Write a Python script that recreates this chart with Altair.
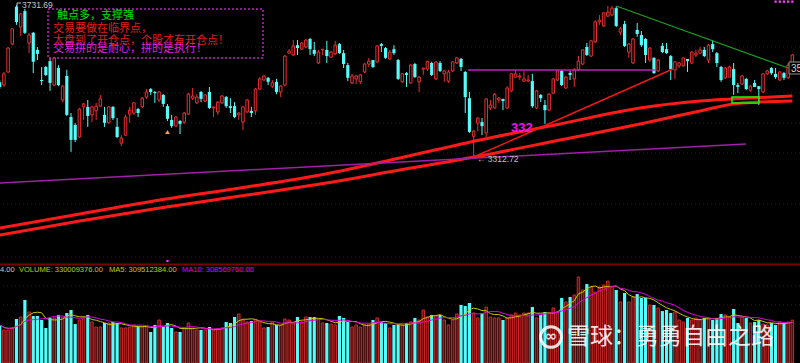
import altair as alt
import pandas as pd

# ---------------- data ----------------
opens = [3519,3511,3547,3624,3727,3671,3715,3627,3655,3608,3525,3561,3577,3511,3558,3470,3536,3423,3401,3368,
         3451,3451,3429,3440,3453,3429,3407,3451,3396,3351,3373,3431,3434,3445,3451,3478,3500,3492,3470,3484,
         3453,3415,3398,3412,3409,3431,3475,3462,3492,3467,3492,3448,3437,3462,3478,3453,3453,3429,3409,3437,
         3440,3440,3500,3525,3531,3508,3520,3492,3511,3599,3594,3621,3610,3616,3638,3608,3572,3608,3608,3588,
         3597,3624,3599,3566,3517,3528,3520,3547,3569,3580,3575,3624,3613,3583,3610,3580,3520,3544,3517,3569,
         3520,3555,3555,3572,3528,3572,3542,3522,3550,3572,3583,3547,3475,3370,3406,3409,3379,3448,3448,3470,
         3473,3448,3495,3533,3533,3522,3522,3522,3448,3484,3456,3442,3489,3525,3550,3503,3544,3528,3553,3569,
         3616,3591,3630,3685,3674,3701,3704,3723,3657,3679,3602,3572,3663,3649,3638,3580,3586,3550,3619,3610,
         3591,3553,3564,3564,3583,3572,3594,3599,3608,3580,3624,3599,3561,3531,3533,3555,3511,3514,3528,3497,
         3517,3508,3492,3542,3558,3542,3525,3544,3531,3572]
highs = [3525,3547,3616,3668,3731.69,3710,3721,3655,3657,3616,3561,3564,3586,3588,3566,3511,3553,3434,3406,3448,
         3462,3470,3453,3462,3484,3451,3453,3453,3420,3373,3429,3451,3464,3448,3478,3500,3503,3495,3495,3486,
         3459,3429,3426,3415,3437,3489,3503,3486,3495,3486,3506,3451,3467,3484,3481,3475,3464,3437,3453,3473,
         3451,3503,3533,3539,3533,3525,3528,3511,3594,3610,3635,3635,3630,3638,3641,3630,3608,3610,3633,3605,
         3633,3627,3608,3572,3542,3539,3542,3572,3586,3580,3621,3627,3616,3608,3621,3583,3544,3547,3569,3572,
         3536,3558,3577,3575,3577,3577,3553,3553,3577,3588,3586,3550,3492,3387,3423,3420,3475,3470,3489,3478,
         3473,3508,3544,3553,3544,3550,3539,3542,3497,3486,3470,3489,3531,3553,3553,3536,3550,3558,3591,3610,
         3627,3635,3690,3704,3712,3729,3729,3728,3671,3688,3627,3641,3682,3660,3641,3616,3588,3583,3627,3627,
         3594,3577,3575,3588,3583,3605,3608,3616,3616,3624,3635,3602,3564,3561,3564,3572,3517,3539,3531,3511,
         3525,3508,3544,3553,3561,3558,3550,3547,3572,3597]
lows = [3500,3506,3544,3621,3677,3646,3652,3599,3544,3580,3511,3536,3495,3508,3508,3464,3426,3327,3354,3365,
        3415,3396,3409,3415,3451,3396,3404,3415,3365,3343,3371,3407,3429,3423,3448,3473,3484,3462,3464,3451,
        3412,3393,3396,3376,3404,3429,3470,3459,3464,3464,3445,3423,3429,3459,3448,3434,3420,3415,3387,3434,
        3423,3429,3497,3522,3511,3503,3486,3478,3508,3597,3591,3594,3608,3613,3594,3591,3569,3594,3572,3586,
        3594,3597,3558,3522,3514,3514,3514,3544,3561,3558,3572,3602,3583,3580,3594,3525,3517,3506,3514,3531,
        3492,3539,3550,3536,3525,3547,3520,3517,3547,3569,3550,3434,3379,3312.72,3384,3373,3368,3442,3445,3462,
        3442,3445,3492,3531,3525,3520,3520,3448,3445,3464,3404,3440,3486,3522,3508,3500,3525,3506,3550,3566,
        3591,3588,3627,3677,3671,3699,3701,3671,3649,3616,3586,3569,3644,3616,3572,3575,3542,3547,3599,3597,
        3525,3528,3558,3561,3547,3569,3588,3597,3588,3572,3602,3561,3520,3528,3533,3484,3489,3511,3497,3492,
        3506,3456,3489,3539,3539,3528,3522,3525,3528,3569]
closes = [3506,3542,3613,3666,3685,3707,3655,3649,3575,3597,3522,3539,3517,3586,3511,3508,3429,3360,3360,3445,
          3459,3426,3451,3453,3473,3407,3451,3420,3368,3365,3423,3442,3462,3434,3475,3492,3492,3489,3492,3459,
          3418,3398,3423,3404,3434,3486,3481,3478,3473,3484,3448,3451,3464,3481,3453,3448,3423,3434,3451,3470,
          3434,3500,3528,3536,3520,3517,3492,3508,3591,3605,3619,3613,3627,3635,3610,3597,3602,3610,3591,3602,
          3621,3599,3569,3531,3536,3536,3539,3569,3577,3561,3619,3619,3586,3602,3599,3528,3542,3539,3566,3533,
          3533,3558,3577,3539,3575,3550,3550,3547,3575,3586,3561,3478,3382,3384,3420,3398,3473,3456,3486,3475,
          3467,3503,3542,3542,3536,3528,3525,3453,3495,3475,3442,3486,3528,3550,3511,3533,3539,3553,3577,3608,
          3594,3633,3685,3690,3710,3712,3723,3674,3666,3619,3624,3638,3652,3621,3594,3613,3544,3580,3602,3599,
          3555,3575,3572,3586,3577,3602,3599,3608,3591,3621,3610,3572,3525,3558,3561,3511,3506,3536,3500,3508,
          3506,3500,3542,3550,3544,3533,3547,3531,3566,3594]
# volume, millions of shares
volumes = [293,254,254,270,339,354,485,393,362,362,331,270,347,347,370,354,385,408,300,331,
           354,370,316,277,277,308,308,316,308,270,270,277,293,285,277,277,239,293,331,277,
           308,270,239,239,270,308,270,254,254,254,277,254,262,270,316,308,354,377,331,316,
           323,331,316,270,277,316,293,293,339,331,308,354,316,354,354,354,339,308,308,300,
           293,362,347,316,277,293,277,293,300,331,347,316,308,270,293,293,293,308,316,347,
           331,408,354,370,362,370,331,293,331,377,447,439,462,385,347,385,431,354,347,347,
           331,347,370,385,370,385,385,431,347,370,393,385,424,393,501,470,508,524,662,562,
           608,585,547,585,601,631,585,562,470,539,470,508,531,501,501,447,447,424,400,408,
           385,393,331,316,347,331,347,331,347,347,331,347,377,370,354,416,308,354,347,308,
           316,331,300,293,308,293,316,308,316,330.009376]

# long moving averages of the index (sampled along the curves)
ma_a_idx = [0, 19.1, 38.2, 57.3, 76.4, 95.4, 114.5, 133.6, 152.7, 167.0, 178.9, 189]
ma_a_val = [3117.1, 3155.7, 3194.3, 3227.4, 3263.2, 3310.1, 3359.7, 3403.8, 3447.9, 3467.1, 3475.4, 3480.9]
ma_b_idx = [0, 19.1, 38.2, 57.3, 76.4, 95.4, 114.5, 133.6, 152.7, 167.0, 174.8, 181.3, 189]
ma_b_val = [3097.8, 3136.4, 3172.3, 3205.3, 3238.4, 3277.0, 3315.6, 3359.7, 3403.8, 3439.6, 3458.9, 3464.4, 3467.1]

# drawn lines (index, price)
purple_line = [(0, 3241.2), (177.9, 3348.6)]
support_line = [(113, 3312.72), (160.5, 3555.3)]
neck_line = [(111.7, 3552.6), (156.2, 3552.6)]
pressure_line = [(147, 3729), (188, 3558)]
box_zone = (174.6, 181.0, 3461.6, 3478.2)

price_grid = [3616.0, 3489.2, 3406.5, 3323.6, 3183.3, 3037.2]
vol_grid = [593, 447, 300]
signal_dots = [185, 186, 187, 188, 189]

# ---------------- styling ----------------
RED = "#e83030"
CYAN = "#54fcfc"
XS = alt.Scale(domain=[0.07, 190.82], nice=False, zero=False)
PS = alt.Scale(domain=[2745.1, 3745.5], nice=False, zero=False)
VS = alt.Scale(domain=[0, 2795], nice=False, zero=False)

N = len(opens)
df = pd.DataFrame({"i": list(range(N)), "o": opens, "h": highs, "l": lows, "c": closes, "v": volumes})
df["up"] = df["c"] >= df["o"]
df["xl_u"] = df["i"] - 0.3
df["xr_u"] = df["i"] + 0.3
df["xl_d"] = df["i"] - 0.38
df["xr_d"] = df["i"] + 0.38
df["zero"] = 0.0
up = df[df.up]
dn = df[~df.up]

one = pd.DataFrame({"a": [0]})


def X(f):
    return alt.X(f, scale=XS, axis=None, title=None)


def YP(f):
    return alt.Y(f, scale=PS, axis=None, title=None)


def YV(f):
    return alt.Y(f, scale=VS, axis=None, title=None)


layers = []

# grid lines
layers.append(alt.Chart(pd.DataFrame({"p": price_grid})).mark_rule(color="#700000", strokeDash=[1, 3], strokeWidth=1)
              .encode(y=YP("p:Q")))
layers.append(alt.Chart(pd.DataFrame({"v": vol_grid})).mark_rule(color="#700000", strokeDash=[1, 3], strokeWidth=1)
              .encode(y=YV("v:Q")))
layers.append(alt.Chart(pd.DataFrame({"v": [758]})).mark_rule(color="#7a0000", strokeWidth=2)
              .encode(y=YV("v:Q")))

# long MAs
ma_df = pd.DataFrame({"i": ma_a_idx + ma_b_idx,
                      "p": ma_a_val + ma_b_val,
                      "s": ["a"] * len(ma_a_idx) + ["b"] * len(ma_b_idx)})
layers.append(alt.Chart(ma_df).mark_line(color="#ff1a1a", strokeWidth=3, interpolate="monotone")
              .encode(x=X("i:Q"), y=YP("p:Q"), detail="s:N"))

# candles: wicks
layers.append(alt.Chart(up).mark_rule(color=RED, strokeWidth=1).encode(x=X("i:Q"), y=YP("l:Q"), y2="h:Q"))
layers.append(alt.Chart(dn).mark_rule(color=CYAN, strokeWidth=1).encode(x=X("i:Q"), y=YP("l:Q"), y2="h:Q"))
# bodies
layers.append(alt.Chart(dn).mark_rect(color=CYAN)
              .encode(x=X("xl_d:Q"), x2="xr_d:Q", y=YP("o:Q"), y2="c:Q"))
layers.append(alt.Chart(up).mark_rect(fill="#000000", stroke=RED, strokeWidth=1)
              .encode(x=X("xl_u:Q"), x2="xr_u:Q", y=YP("o:Q"), y2="c:Q"))

# volume bars
layers.append(alt.Chart(dn).mark_rect(color=CYAN)
              .encode(x=X("xl_d:Q"), x2="xr_d:Q", y=YV("zero:Q"), y2="v:Q"))
layers.append(alt.Chart(up).mark_rect(fill="#4e1010", stroke="#d02828", strokeWidth=1)
              .encode(x=X("xl_u:Q"), x2="xr_u:Q", y=YV("zero:Q"), y2="v:Q"))
# volume MAs
layers.append(alt.Chart(df).transform_window(m5="mean(v)", frame=[-4, 0], sort=[alt.SortField("i")])
              .mark_line(color="#c8c800", strokeWidth=1).encode(x=X("i:Q"), y=YV("m5:Q")))
layers.append(alt.Chart(df).transform_window(m10="mean(v)", frame=[-9, 0], sort=[alt.SortField("i")])
              .mark_line(color="#e000e0", strokeWidth=1).encode(x=X("i:Q"), y=YV("m10:Q")))


def seg(points, color, width):
    d = pd.DataFrame({"i": [points[0][0]], "p": [points[0][1]], "i2": [points[1][0]], "p2": [points[1][1]]})
    return (alt.Chart(d).mark_rule(color=color, strokeWidth=width)
            .encode(x=X("i:Q"), x2="i2:Q", y=YP("p:Q"), y2="p2:Q"))


layers.append(seg(purple_line, "#a020a8", 1.5))
layers.append(seg(support_line, "#f01818", 1.5))
layers.append(seg(neck_line, "#c818c8", 1.5))
layers.append(seg(pressure_line, "#20a020", 1.2))

bz = pd.DataFrame({"i": [box_zone[0]], "i2": [box_zone[1]], "p": [box_zone[2]], "p2": [box_zone[3]]})
layers.append(alt.Chart(bz).mark_rect(fill=None, stroke="#00ff00", strokeWidth=1.5)
              .encode(x=X("i:Q"), x2="i2:Q", y=YP("p:Q"), y2="p2:Q"))

# markers
layers.append(alt.Chart(pd.DataFrame({"i": signal_dots, "p": [3741.0] * len(signal_dots)}))
              .mark_square(color="#ff40ff", size=5, opacity=1).encode(x=X("i:Q"), y=YP("p:Q")))
layers.append(alt.Chart(pd.DataFrame({"i": [40], "p": [3381.7]}))
              .mark_point(shape="triangle-up", filled=True, color="#ff9955", size=22, opacity=1)
              .encode(x=X("i:Q"), y=YP("p:Q")))
layers.append(alt.Chart(pd.DataFrame({"i": [40], "p": [3026.2]}))
              .mark_square(color="#ff30ff", size=5, opacity=1).encode(x=X("i:Q"), y=YP("p:Q")))


def txt(s, x, y, color, size, font="Liberation Sans", align="left", weight="normal", opacity=1.0, baseline="middle"):
    return (alt.Chart(pd.DataFrame({"t": [s]}))
            .mark_text(align=align, baseline=baseline, color=color, fontSize=size, font=font,
                       fontWeight=weight, opacity=opacity)
            .encode(text="t:N", x=alt.value(x), y=alt.value(y)))


# text box
layers.append(alt.Chart(one).mark_rect(fill=None, stroke="#c020c0", strokeWidth=1.5, strokeDash=[2, 2])
              .encode(x=alt.value(48), x2=alt.value(263), y=alt.value(9), y2=alt.value(58)))
CJK = "Noto Sans CJK SC"
layers.append(txt("触点多，支撑强", 57, 16, "#00e000", 11, CJK))
layers.append(txt("交易要做在临界点，", 53, 28.5, "#e81c1c", 11, CJK))
layers.append(txt("大盘到了开仓点，个股才有开仓点！", 53, 41, "#e81c1c", 11, CJK))
layers.append(txt("交易拼的是耐心，拼的是执行！", 53, 48.5, "#e020e0", 11, CJK))

# price labels
layers.append(alt.Chart(one).mark_rule(color="#c0c0c0", strokeWidth=1)
              .encode(x=alt.value(17), x2=alt.value(21), y=alt.value(3), y2=alt.value(3)))
layers.append(alt.Chart(one).mark_rule(color="#c0c0c0", strokeWidth=1)
              .encode(x=alt.value(17), x2=alt.value(17), y=alt.value(3), y2=alt.value(7)))
layers.append(txt("3731.69", 22, 4.5, "#c8c8c8", 8.5))
layers.append(txt("← 3312.72", 477, 159, "#c0c0c0", 8.5))
layers.append(txt("332", 511, 128, "#e818e8", 13, weight="bold"))
layers.append(alt.Chart(one).mark_rect(fill="#000000", stroke="#909090", strokeWidth=1)
              .encode(x=alt.value(789), x2=alt.value(802), y=alt.value(62), y2=alt.value(74)))
layers.append(txt("35", 791, 68.5, "#d0d0d0", 10))

# volume caption
layers.append(txt("4.00", 0, 270, "#c8c8c8", 7.5))
layers.append(txt("VOLUME: 330009376.00", 19, 270, "#c8c800", 7.5))
layers.append(txt("MA5: 309512384.00", 109, 270, "#c8c800", 7.5))
layers.append(txt("MA10: 308569760.00", 182, 270, "#e000e0", 7.5))

# watermark
layers.append(alt.Chart(one).mark_point(shape="circle", filled=False, color="#ffffff", size=430,
                                         strokeWidth=3, opacity=0.85)
              .encode(x=alt.value(551), y=alt.value(337)))
layers.append(txt("∞", 551, 336, "#ffffff", 15, font="DejaVu Sans", align="center", weight="bold", opacity=0.85))
layers.append(txt("雪球：勇勇自由之路", 567, 337, "#ffffff", 23, CJK, opacity=0.88))

chart = (alt.layer(*layers)
         .resolve_scale(y="independent")
         .properties(width=800, height=363, background="#000000", padding=0, autosize="none")
         .configure_view(stroke=None))

chart.save("out.html", embed_options={"renderer": "svg", "actions": False})
